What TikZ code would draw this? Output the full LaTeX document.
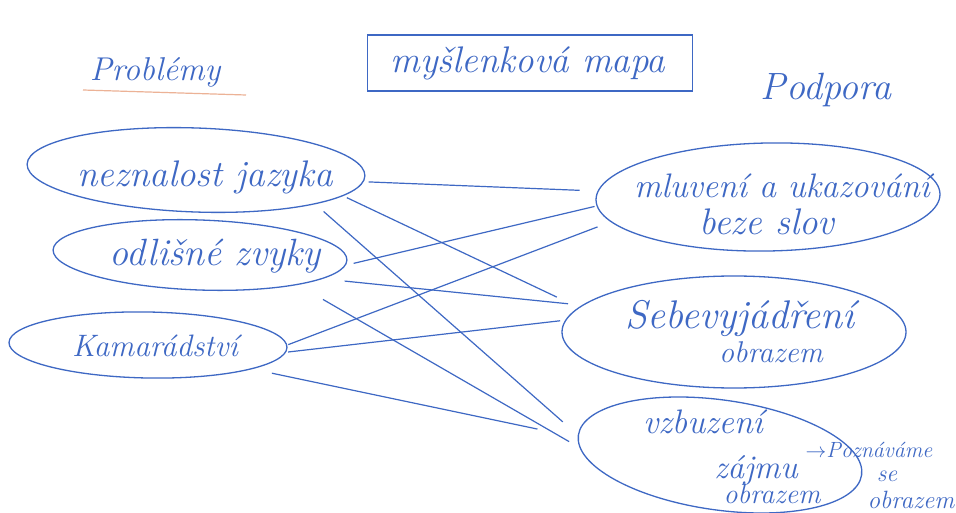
\documentclass[tikz,border=0pt]{standalone}
\usetikzlibrary{shapes.geometric}

\definecolor{ink}{RGB}{62,104,196}
\definecolor{marker}{RGB}{236,178,150}

\begin{document}
\begin{tikzpicture}[x=1pt, y=-1pt,
    hand/.style={text=ink, inner sep=0pt, font=\fontsize{#1}{#1}\selectfont\itshape},
    hand/.default=32,
    bubble/.style={ellipse, draw=ink, line width=1.3pt, inner sep=0pt},
    link/.style={draw=ink, line width=1.2pt}]

    \useasboundingbox[fill=white] (0, 0) rectangle (956, 513);

    % --- Headings ---
    \node[hand=33] (probl) at (155, 72) {Problémy};
    \draw[marker, line width=1.2pt] (83, 90) -- (246, 95);
    \node[draw=ink, line width=1.3pt, minimum width=325pt, minimum height=56pt] (title) at (530, 63) {};
    \node[hand=37] (title-t) at (528, 63) {myšlenková mapa};
    \node[hand=38] (podp) at (826, 90) {Podpora};

    % --- Left column: problems ---
    \node[bubble, minimum width=338pt, minimum height=84pt, rotate=-2] (nez) at (196, 170) {};
    \node[hand=37] (nez-t) at (205, 177) {neznalost jazyka};
    \node[bubble, minimum width=294pt, minimum height=70pt, rotate=-2] (odl) at (200, 255) {};
    \node[hand=38] (odl-t) at (215, 256) {odlišné zvyky};
    \node[bubble, minimum width=278pt, minimum height=66pt, rotate=-1] (kam) at (148, 345) {};
    \node[hand=31] (kam-t) at (155, 346) {Kamarádství};

    % --- Right column: support ---
    \node[bubble, minimum width=344pt, minimum height=108pt, rotate=1] (mlu) at (768, 197) {};
    \node[hand=34] (mlu-t1) at (782, 186) {mluvení a ukazování};
    \node[hand=37] (mlu-t2) at (767, 222) {beze slov};
    \node[bubble, minimum width=344pt, minimum height=112pt] (seb) at (734, 332) {};
    \node[hand=40] (seb-t1) at (740, 318) {Sebevyjádření};
    \node[hand=30] (seb-t2) at (771, 352) {obrazem};
    \node[bubble, minimum width=286pt, minimum height=110pt, rotate=-8] (vzb) at (720, 455) {};
    \node[hand=34] (vzb-t1) at (703, 422) {vzbuzení};
    \node[hand=33] (vzb-t2) at (756, 470) {zájmu};
    \node[hand=28] (vzb-t3) at (772, 494) {obrazem};

    % annotation beside the last bubble
    \node[hand=22] (pozn-t1) at (869, 450) {$\rightarrow$Poznáváme};
    \node[hand=24] (pozn-t2) at (887, 476) {se};
    \node[hand=25] (pozn-t3) at (911, 500) {obrazem};

    % --- Links: every problem to every support ---
    \draw[link, shorten <=5pt, shorten >=18pt] (nez.-2) -- (mlu.177);
    \draw[link, shorten <=4pt, shorten >=24pt] (nez.-8) -- (seb.171);
    \draw[link, shorten <=11pt, shorten >=20pt] (nez.-14) -- (vzb.180);
    \draw[link, shorten <=8pt, shorten >=2pt] (odl.-2) -- (mlu.182);
    \draw[link, shorten <=22pt, shorten >=14pt] (odl.-9) -- (seb.170);
    \draw[link, shorten <=29pt, shorten >=12pt] (odl.-15) -- (vzb.185);
    \draw[link, shorten <=1pt, shorten >=14pt] (kam.1) -- (mlu.188);
    \draw[link, shorten <=2pt, shorten >=5pt] (kam.-2) -- (seb.176);
    \draw[link, shorten <=20pt, shorten >=41pt] (kam.-12) -- (vzb.181);
\end{tikzpicture}
\end{document}
